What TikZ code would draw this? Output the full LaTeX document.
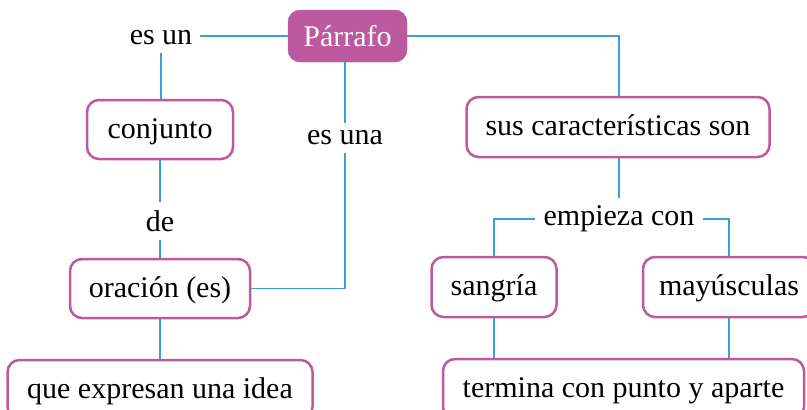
\documentclass[tikz,border=0pt]{standalone}
\usepackage{fontspec}
\setmainfont{Liberation Serif}
\usepackage{xcolor}
\usepackage{tikz}
\usetikzlibrary{calc}
\usetikzlibrary{positioning}
\definecolor{magenta}{HTML}{BD599F}
\definecolor{azul}{HTML}{3A9DD8}
\tikzset{
	caja/.style={draw=magenta,line width=2.5pt,rounded corners=12pt,fill=white,inner sep=0pt,text height=22pt,text depth=5pt},
	titulo/.style={fill=magenta,draw=magenta,rounded corners=12pt,text=white,inner sep=0pt,text height=25pt,text depth=3.5pt},
	enlace/.style={inner sep=8pt},
	linea/.style={azul,line width=1.5pt}
}
\begin{document}
\begin{tikzpicture}[x=1pt,y=-1pt,font=\fontsize{30}{36}\selectfont]
	\useasboundingbox (0,0) rectangle (807,410);
	\node[titulo,minimum width=119pt,minimum height=52pt] (parrafo) at (347.5,36) {Párrafo};
	\node[enlace] (esun) at (161,38) {es un};
	\node[enlace] (esuna) at (345,138) {es una};
	\node[enlace] (de) at (160,221) {de};
	\node[enlace] (empieza) at (619,219) {empieza con};
	\node[caja,minimum width=146pt,minimum height=59pt] (conjunto) at (160,129.5) {conjunto};
	\node[caja,minimum width=180pt,minimum height=59pt] (oracion) at (160,288.5) {oración (es)};
	\node[caja,minimum width=305pt,minimum height=59pt] (idea) at (160,389.5) {que expresan una idea};
	\node[caja,minimum width=303pt,minimum height=60pt] (sus) at (618,127) {sus características son};
	\node[caja,minimum width=125pt,minimum height=60pt] (sangria) at (494,287) {sangría};
	\node[caja,minimum width=172pt,minimum height=60pt] (mayus) at (729,287) {mayúsculas};
	\node[caja,minimum width=361pt,minimum height=60pt] (termina) at (623.5,389) {termina con punto y aparte};
	% conectores
	\draw[linea] (parrafo.west) -- (parrafo.west -| esun.east);
	\draw[linea] (esun.south) -- (esun.south |- conjunto.north);
	\draw[linea] (esuna.north) -- (esuna.north |- parrafo.south);
	\draw[linea] (esuna.south) |- (oracion.east);
	\draw[linea] (conjunto.south) -- (de.north);
	\draw[linea] (de.south) -- (oracion.north);
	\draw[linea] (oracion.south) -- (idea.north);
	\draw[linea] (parrafo.east) -| (empieza.north |- sus.north);
	\draw[linea] (sus.south -| empieza.north) -- (empieza.north);
	\draw[linea] (empieza.west) -| (sangria.north);
	\draw[linea] (empieza.east) -| (mayus.north);
	\draw[linea] (sangria.south) -- (sangria.south |- termina.north);
	\draw[linea] (mayus.south) -- (mayus.south |- termina.north);
\end{tikzpicture}
\end{document}
